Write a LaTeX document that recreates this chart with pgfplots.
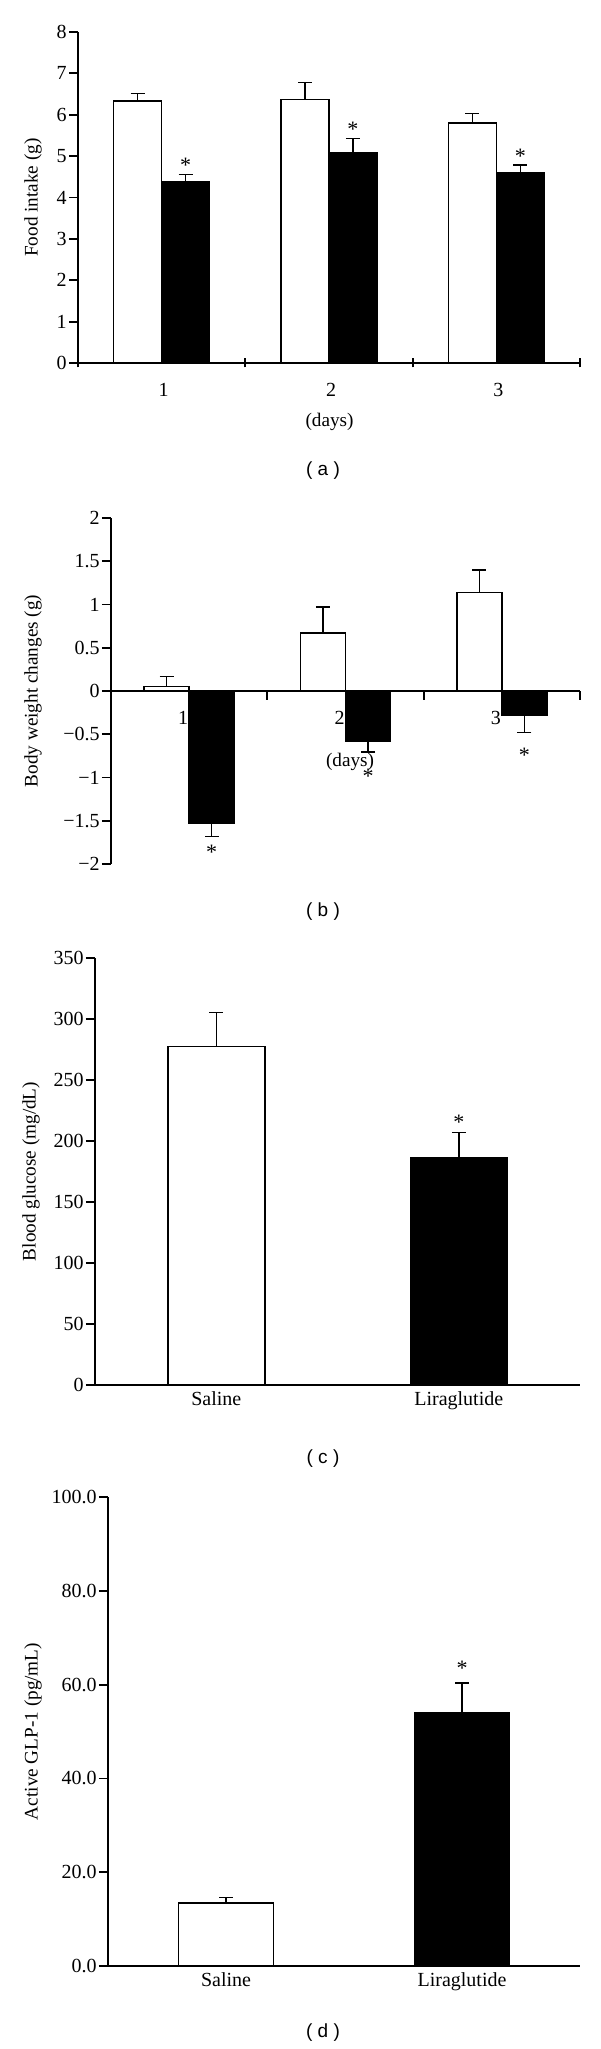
\documentclass[border=0pt]{standalone}
\usepackage{pgfplots}
\pgfplotsset{compat=1.18}
\usepackage{fontspec}
\setmainfont{Liberation Serif}
\newfontfamily\capfont{Liberation Sans}
\newcommand\tickfont{\fontsize{10}{12}\selectfont}
\newcommand\labfont{\fontsize{9.6}{11.5}\selectfont}
\newcommand\capsize{\capfont\fontsize{9.5}{11}\selectfont}

\pgfplotsset{
  panel/.style={
    scale only axis,
    anchor=north west,
    clip=false,
    axis y line=left,
    tick align=outside,
    major tick length=4.5pt,
    tick style={line width=0.9pt, black},
    tick label style={font=\tickfont, inner sep=1pt},
    ylabel style={font=\labfont, anchor=center},
    /pgf/number format/assume math mode=true,
  },
  nolinearrows/.style={axis line style={-, line width=0.9pt},
    x axis line style={-}, y axis line style={-}},
  wbar/.style={ybar, bar shift=0pt, fill=white, draw=black, line width=0.75pt},
  bbar/.style={ybar, bar shift=0pt, fill=black, draw=black, line width=0.75pt},
  errp/.style={error bars/y dir=plus, error bars/y explicit,
    error bars/error bar style={line width=0.75pt, black},
    error bars/error mark options={rotate=90, mark size=3.5pt, line width=0.75pt, black}},
  errm/.style={error bars/y dir=minus, error bars/y explicit,
    error bars/error bar style={line width=0.75pt, black},
    error bars/error mark options={rotate=90, mark size=3.5pt, line width=0.75pt, black}},
  star/.style={only marks, mark=text, text mark={*}, text mark as node=true,
    text mark style={font=\fontsize{11}{12}\selectfont, anchor=center, inner sep=0pt}},
}

\begin{document}
\begin{tikzpicture}
\path[use as bounding box] (0,0) rectangle (300pt,-1024.5pt);

% ---------------- (a) ----------------
\begin{axis}[panel, at={(39pt,-16pt)}, width=251pt, height=165.5pt,
  xmin=0.5, xmax=3.5, ymin=0, ymax=8, ytick={0,1,2,3,4,5,6,7,8},
  axis x line=bottom, xtick={0.5,1.5,2.5,3.5}, xticklabels={,,,},
  ylabel={Food intake (g)},
  ylabel style={at={(axis description cs:-0.0896,0.5)}},
  nolinearrows]
\addplot[wbar, bar width=24pt, errp] coordinates {
  (0.857,6.33) +- (0,0.18)
  (1.857,6.37) +- (0,0.41)
  (2.857,5.80) +- (0,0.23)};
\addplot[bbar, bar width=24pt, errp] coordinates {
  (1.143,4.37) +- (0,0.18)
  (2.143,5.09) +- (0,0.34)
  (3.143,4.59) +- (0,0.20)};
\addplot[star] coordinates {(1.143,4.77) (2.143,5.65) (3.143,4.99)};
\node[font=\tickfont, xshift=1pt, yshift=-13.5pt] at (axis cs:1,0) {1};
\node[font=\tickfont, xshift=1pt, yshift=-13.5pt] at (axis cs:2,0) {2};
\node[font=\tickfont, xshift=1pt, yshift=-13.5pt] at (axis cs:3,0) {3};
\end{axis}
\node[font=\labfont] at (164.75pt,-211pt) {(days)};
\node[font=\capsize] at (161.5pt,-235.5pt) {( a )};

% ---------------- (b) ----------------
\begin{axis}[panel, at={(55.5pt,-259pt)}, width=234.5pt, height=173pt,
  xmin=0.5, xmax=3.5, ymin=-2, ymax=2,
  axis x line=none,
  ytick={-2,-1.5,-1,-0.5,0,0.5,1,1.5,2},
  yticklabels={−2,−1.5,−1,−0.5,0,0.5,1,1.5,2},
  ylabel={Body weight changes (g)},
  ylabel style={at={(axis description cs:-0.1663,0.5)}},
  nolinearrows]
\addplot[wbar, bar width=22.5pt, errp] coordinates {
  (0.856,0.05) +- (0,0.115)
  (1.856,0.67) +- (0,0.30)
  (2.856,1.14) +- (0,0.26)};
\addplot[bbar, bar width=22.5pt, errm] coordinates {
  (1.144,-1.527) +- (0,0.153)
  (2.144,-0.585) +- (0,0.12)
  (3.144,-0.28) +- (0,0.197)};
\addplot[star] coordinates {(1.144,-1.87) (2.144,-0.99) (3.144,-0.74)};
\draw[line width=0.9pt] (axis cs:0.5,0) -- (axis cs:3.5,0);
\draw[line width=0.9pt] (axis cs:1.5,0) -- (axis cs:1.5,-0.104);
\draw[line width=0.9pt] (axis cs:2.5,0) -- (axis cs:2.5,-0.104);
\draw[line width=0.9pt] (axis cs:3.5,0) -- (axis cs:3.5,-0.104);
\node[font=\tickfont, xshift=-3pt, yshift=-13.5pt] at (axis cs:1,0) {1};
\node[font=\tickfont, xshift=-3pt, yshift=-13.5pt] at (axis cs:2,0) {2};
\node[font=\tickfont, xshift=-3pt, yshift=-13.5pt] at (axis cs:3,0) {3};
\end{axis}
\node[font=\labfont] at (175pt,-381pt) {(days)};
\node[font=\capsize] at (161.5pt,-456pt) {( b )};

% ---------------- (c) ----------------
\begin{axis}[panel, at={(47.5pt,-479pt)}, width=242.5pt, height=213.5pt,
  xmin=0.5, xmax=2.5, ymin=0, ymax=350, ytick={0,50,100,150,200,250,300,350},
  axis x line=bottom, xtick={1,2}, xticklabels={Saline,Liraglutide},
  xtick style={draw=none},
  ylabel={Blood glucose (mg/dL)},
  ylabel style={at={(axis description cs:-0.132,0.5)}},
  nolinearrows]
\addplot[wbar, bar width=48.5pt, errp] coordinates {(1,277.4) +- (0,28.1)};
\addplot[bbar, bar width=48.5pt, errp] coordinates {(2,186.4) +- (0,20.5)};
\addplot[star] coordinates {(2,215)};
\end{axis}
\node[font=\capsize] at (161.5pt,-729.5pt) {( c )};

% ---------------- (d) ----------------
\begin{axis}[panel, at={(54pt,-748.5pt)}, width=236pt, height=234.5pt,
  xmin=0.5, xmax=2.5, ymin=0, ymax=100, ytick={0,20,40,60,80,100},
  yticklabels={0.0,20.0,40.0,60.0,80.0,100.0},
  axis x line=bottom, xtick={1,2}, xticklabels={Saline,Liraglutide},
  xtick style={draw=none},
  ylabel={Active GLP-1 (pg/mL)},
  ylabel style={at={(axis description cs:-0.159,0.5)}},
  nolinearrows]
\addplot[wbar, bar width=47.5pt, errp] coordinates {(1,13.4) +- (0,1.2)};
\addplot[bbar, bar width=47.5pt, errp] coordinates {(2,53.9) +- (0,6.4)};
\addplot[star] coordinates {(2,63.5)};
\end{axis}
\node[font=\capsize] at (161.5pt,-1016.5pt) {( d )};
\end{tikzpicture}
\end{document}
